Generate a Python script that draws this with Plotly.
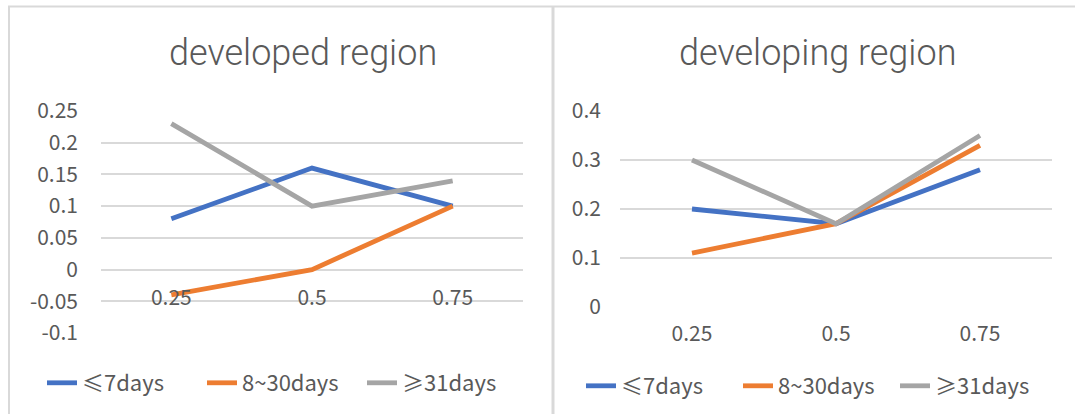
import plotly.graph_objects as go

# Category positions along the horizontal axis
quantiles = ["0.25", "0.5", "0.75"]
series_names = ["≤7days", "8~30days", "≥31days"]
series_colors = ["#4472C4", "#ED7D31", "#A5A5A5"]

# developed region
developed_le7 = [0.08, 0.16, 0.10]
developed_8_30 = [-0.04, 0.00, 0.10]
developed_ge31 = [0.23, 0.10, 0.14]

# developing region
developing_le7 = [0.20, 0.17, 0.28]
developing_8_30 = [0.11, 0.17, 0.33]
developing_ge31 = [0.30, 0.17, 0.35]

left_ticks = [0.25, 0.2, 0.15, 0.1, 0.05, 0, -0.05, -0.1]
left_ticktext = ["0.25", "0.2", "0.15", "0.1", "0.05", "0", "-0.05", "-0.1"]
right_ticks = [0.4, 0.3, 0.2, 0.1, 0]
right_ticktext = ["0.4", "0.3", "0.2", "0.1", "0"]

W, H = 1075, 414
FONT = "Noto Sans CJK SC"
TITLE_FONT = "Roboto"
TXT = "#595959"
GRID = "#D9D9D9"


def px_x(p):
    return p / W


def px_y(p):
    return 1 - p / H


fig = go.Figure()

left_sets = [developed_le7, developed_8_30, developed_ge31]
right_sets = [developing_le7, developing_8_30, developing_ge31]

for name, color, ys in zip(series_names, series_colors, left_sets):
    fig.add_trace(go.Scatter(
        x=quantiles, y=ys, name=name, mode="lines",
        line=dict(color=color, width=4.8),
        xaxis="x", yaxis="y", legend="legend",
    ))

for name, color, ys in zip(series_names, series_colors, right_sets):
    fig.add_trace(go.Scatter(
        x=quantiles, y=ys, name=name, mode="lines",
        line=dict(color=color, width=4.8),
        xaxis="x2", yaxis="y2", legend="legend2",
    ))

left_dom_y = [px_y(333), px_y(111)]
right_dom_y = [px_y(307), px_y(111)]
zero_pos_left = left_dom_y[0] + (0 - (-0.1)) / 0.35 * (left_dom_y[1] - left_dom_y[0])

tickfont = dict(family=FONT, size=21, color=TXT)
legendfont = dict(family=FONT, size=22, color=TXT)
titlefont = dict(family=TITLE_FONT, size=36, color=TXT, weight=300)

fig.update_layout(
    width=W, height=H,
    margin=dict(l=0, r=0, t=0, b=0, autoexpand=False),
    paper_bgcolor="white", plot_bgcolor="white",
    showlegend=True,
    xaxis=dict(
        domain=[px_x(101), px_x(523)], type="category", range=[-0.5, 2.5],
        anchor="free", position=zero_pos_left,
        showgrid=False, zeroline=False, showline=False, ticks="",
        tickfont=tickfont, ticklabelstandoff=13, automargin=False,
    ),
    yaxis=dict(
        domain=left_dom_y, range=[-0.1, 0.25], anchor="x",
        tickvals=left_ticks, ticktext=left_ticktext,
        showgrid=True, gridcolor=GRID, gridwidth=1.5, zeroline=False,
        showline=False, ticks="", tickfont=tickfont, ticklabelstandoff=22,
        automargin=False,
    ),
    xaxis2=dict(
        domain=[px_x(620), px_x(1052)], type="category", range=[-0.5, 2.5],
        anchor="y2", showgrid=False, zeroline=False, showline=False,
        ticks="", tickfont=tickfont, ticklabelstandoff=12, automargin=False,
    ),
    yaxis2=dict(
        domain=right_dom_y, range=[0, 0.4], anchor="x2",
        tickvals=right_ticks, ticktext=right_ticktext,
        showgrid=True, gridcolor=GRID, gridwidth=1.5, zeroline=False,
        showline=False, ticks="", tickfont=tickfont, ticklabelstandoff=18,
        automargin=False,
    ),
    legend=dict(
        orientation="h", x=px_x(42), y=px_y(383), xanchor="left", yanchor="middle",
        font=legendfont, bgcolor="rgba(0,0,0,0)", entrywidth=115,
        itemclick=False,
    ),
    legend2=dict(
        orientation="h", x=px_x(581), y=px_y(386), xanchor="left", yanchor="middle",
        font=legendfont, bgcolor="rgba(0,0,0,0)", entrywidth=112,
        itemclick=False,
    ),
    annotations=[
        dict(text="developed region", x=px_x(303), y=px_y(53), xref="paper", yref="paper",
             showarrow=False, xanchor="center", yanchor="middle", font=titlefont),
        dict(text="developing region", x=px_x(817), y=px_y(53), xref="paper", yref="paper",
             showarrow=False, xanchor="center", yanchor="middle", font=titlefont),
    ],
    shapes=[
        # chart frames
        dict(type="line", xref="paper", yref="paper", x0=px_x(8), x1=1, y0=px_y(6.5), y1=px_y(6.5),
             line=dict(color=GRID, width=2), layer="below"),
        dict(type="line", xref="paper", yref="paper", x0=px_x(9), x1=px_x(9), y0=px_y(6), y1=0,
             line=dict(color=GRID, width=2), layer="below"),
        dict(type="line", xref="paper", yref="paper", x0=px_x(553), x1=px_x(553), y0=px_y(6), y1=0,
             line=dict(color=GRID, width=3), layer="below"),
    ],
)

fig.write_html("out.html")
